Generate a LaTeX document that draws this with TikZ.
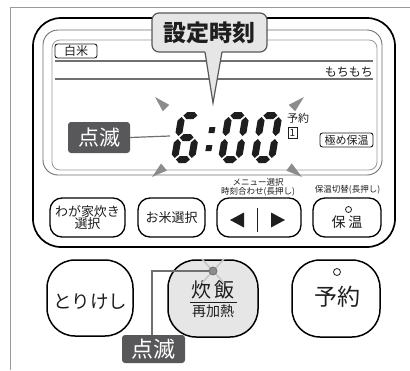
\documentclass[tikz,border=0pt]{standalone}
\usepackage{fontspec}
\setmainfont{Noto Sans CJK JP}
\definecolor{dkbox}{HTML}{58585A}
\definecolor{lgfill}{HTML}{E6E6E6}
\definecolor{frameg}{HTML}{9A9A9A}
\definecolor{lcdline}{HTML}{707070}
\definecolor{raygray}{HTML}{8C8C8C}
\definecolor{txt}{HTML}{1E1E1E}
\newcommand\lcdh[3]{\fill (#1,#3) -- ({#1+3.5},{#3-3.5}) -- ({#2-3.5},{#3-3.5}) -- (#2,#3) -- ({#2-3.5},{#3+3.5}) -- ({#1+3.5},{#3+3.5}) -- cycle;}
\newcommand\lcdv[3]{\fill (#1,#2) -- ({#1+3.5},{#2+3.5}) -- ({#1+3.5},{#3-3.5}) -- (#1,#3) -- ({#1-3.5},{#3-3.5}) -- ({#1-3.5},{#2+3.5}) -- cycle;}
\newcommand\sgA{\lcdh{5}{19}{3.5}}
\newcommand\sgG{\lcdh{5}{19}{25.5}}
\newcommand\sgD{\lcdh{5}{19}{47.5}}
\newcommand\sgF{\lcdv{3.5}{5}{24}}
\newcommand\sgB{\lcdv{20.5}{5}{24}}
\newcommand\sgE{\lcdv{3.5}{27}{46}}
\newcommand\sgC{\lcdv{20.5}{27}{46}}
\newcommand\lcdsix{\sgA\sgF\sgG\sgE\sgD\sgC}
\newcommand\lcdzero{\sgA\sgB\sgC\sgD\sgE\sgF}
\tikzset{
  fs/.style={font=\fontsize{#1}{#1}\selectfont},
  btn/.style={draw=black, line width=1.3pt, rounded corners=12pt, text=txt, inner sep=0pt, align=center},
  bigbtn/.style={draw=black, line width=1.5pt, rounded corners=28pt, text=txt, inner sep=0pt, align=center},
  blinkbox/.style={fill=dkbox, rounded corners=3pt, text=white, inner sep=0pt},
  smallbox/.style={draw=txt, line width=0.9pt, rounded corners=2.5pt, text=txt, inner sep=1pt},
  ray/.style={fill=raygray},
  leader/.style={draw=lcdline, line width=1.2pt},
}
\begin{document}
\begin{tikzpicture}[x=1pt,y=-1pt]
\useasboundingbox (0,0) rectangle (410,370);
\fill[white] (0,0) rectangle (410,370);
% outer frame lines
\draw[frameg, line width=1pt] (410,7) -- (10,7) -- (10,370);
% panel
\draw[black, line width=1.7pt, rounded corners=28pt] (33,18) rectangle (395,247);
% LCD frames
\draw[lcdline, line width=0.9pt, rounded corners=15pt] (43,30) rectangle (382,175);
\draw[frameg, line width=0.8pt, rounded corners=8pt] (52,40) rectangle (377,170);
\draw[lcdline, line width=1.4pt] (55,61) -- (373,61);
\draw[lcdline, line width=1.4pt] (55,79) -- (373,79);
% LCD texts
\node[smallbox, fs=12, minimum width=42pt, minimum height=14pt] (hakumai) at (76,51) {白米};
\node[fs=12, text=txt, anchor=south east, inner sep=0pt] (mochi) at (373,77) {もちもち};
\node[fs=11, text=txt, anchor=west, inner sep=0pt] (yoyakusm) at (287,118) {予約};
\node[draw=txt, line width=0.8pt, fs=10, text=txt, inner sep=0pt, minimum width=9pt, minimum height=11pt] (one) at (292.5,132.5) {1};
\node[smallbox, fs=11, minimum width=53pt, minimum height=14pt] (kiwame) at (346.5,140) {極め保温};
% digits
\begin{scope}[txt]
\begin{scope}[shift={(179,112)}, xslant=0.17]\lcdsix\end{scope}
\begin{scope}[shift={(226,112)}, xslant=0.17]\lcdzero\end{scope}
\begin{scope}[shift={(259,112)}, xslant=0.17]\lcdzero\end{scope}
\begin{scope}[shift={(215,112)}, xslant=0.17]
  \fill (-3,15) rectangle (3,21);
  \fill (-3,33) rectangle (3,39);
\end{scope}
\end{scope}
\coordinate (digitL) at (170,136);
% blink rays
\fill[ray] (155,97) -- (162.8,111.2) -- (169.2,104.8) -- cycle;
\fill[ray] (304,97) -- (295.2,111.2) -- (288.8,104.8) -- cycle;
\fill[ray] (152,177) -- (166.9,170.5) -- (161.1,163.5) -- cycle;
\fill[ray] (302,177) -- (291.7,163.4) -- (286.3,170.6) -- cycle;
% LCD blink label
\node[blinkbox, fs=21, minimum width=62pt, minimum height=31pt] (blink1) at (99,137.5) {点滅};
\draw[leader] (blink1.east) -- (digitL);
% callout
\node[fill=lgfill, draw=dkbox, line width=1.2pt, rounded corners=7pt, minimum width=115pt, minimum height=39pt, inner sep=0pt, font=\fontsize{23}{23}\selectfont\bfseries, text=txt] (callout) at (209.5,32.5) {設定時刻};
\coordinate (ctip) at (213,103);
\fill[lgfill] (205,50.5) -- (ctip) -- (222,50.5) -- cycle;
\draw[dkbox, line width=1.2pt] (205,52) -- (ctip) -- (222,52);
% labels under LCD
\node[fs=8.5, text=txt, inner sep=0pt] (menu) at (258,182) {メニュー選択};
\node[fs=8.5, text=txt, inner sep=0pt] (jikoku) at (258,191.5) {時刻合わせ(長押し)};
\node[fs=8.5, text=txt, inner sep=0pt] (hoonkiri) at (347.5,190) {保温切替(長押し)};
% row 1 buttons
\node[btn, fs=13, minimum width=75pt, minimum height=39pt] (wagaya) at (87.5,217.5) {わが家炊き\\[-1pt]選択};
\node[btn, fs=13, minimum width=67pt, minimum height=39pt] (okome) at (171.5,217.5) {お米選択};
\node[btn, minimum width=84pt, minimum height=39pt] (arrows) at (259,217.5) {};
\fill[txt] (230,220) -- (244,212.5) -- (244,227.5) -- cycle;
\fill[txt] (285,220) -- (271,212.5) -- (271,227.5) -- cycle;
\draw[txt, line width=1.4pt] (257.5,208) -- (257.5,232);
\node[btn, minimum width=68pt, minimum height=39pt] (hoon) at (347,217.5) {};
\node[fs=14, text=txt, inner sep=0pt] (hoontxt) at (347,222) {保\hspace{3pt}温};
\draw[txt, line width=0.8pt] (348.5,209.5) circle (3pt);
% row 2 buttons
\node[bigbtn, minimum width=86pt, minimum height=76pt] (torikeshi) at (90,298) {};
\node[fs=18.5, text=txt, inner sep=0pt] (torikeshitxt) at (90,302) {とりけし};
\node[bigbtn, fill=lgfill, minimum width=90pt, minimum height=77pt] (suihan) at (213,298.5) {};
\node[fs=20, text=txt, inner sep=0pt] (suihantxt) at (213,290) {炊\hspace{3pt}飯};
\draw[txt, line width=1pt] (190,302) -- (237,302);
\node[fs=14, text=txt, inner sep=0pt] (saikanetsu) at (213,311.5) {再加熱};
\node[bigbtn, minimum width=88pt, minimum height=77pt] (yoyaku) at (336,298.5) {};
\node[fs=23, text=txt, inner sep=0pt] (yoyakutxt) at (337,297) {予約};
\draw[txt, line width=0.8pt] (337,272) circle (3.5pt);
% LED with rays
\draw[lgfill!70!gray, line width=1.6pt] (202,259) -- (224,283);
\draw[lgfill!70!gray, line width=1.6pt] (224,259) -- (202,283);
\node[circle, fill=raygray, draw=lcdline, line width=0.8pt, minimum size=8pt, inner sep=0pt] (led) at (213,271) {};
% bottom blink label
\node[blinkbox, fs=22, minimum width=63pt, minimum height=28pt] (blink2) at (153.5,349) {点滅};
\coordinate (bend) at (152,271);
\draw[leader] (led.west) -- (bend) -- (bend |- blink2.north);
\end{tikzpicture}
\end{document}
